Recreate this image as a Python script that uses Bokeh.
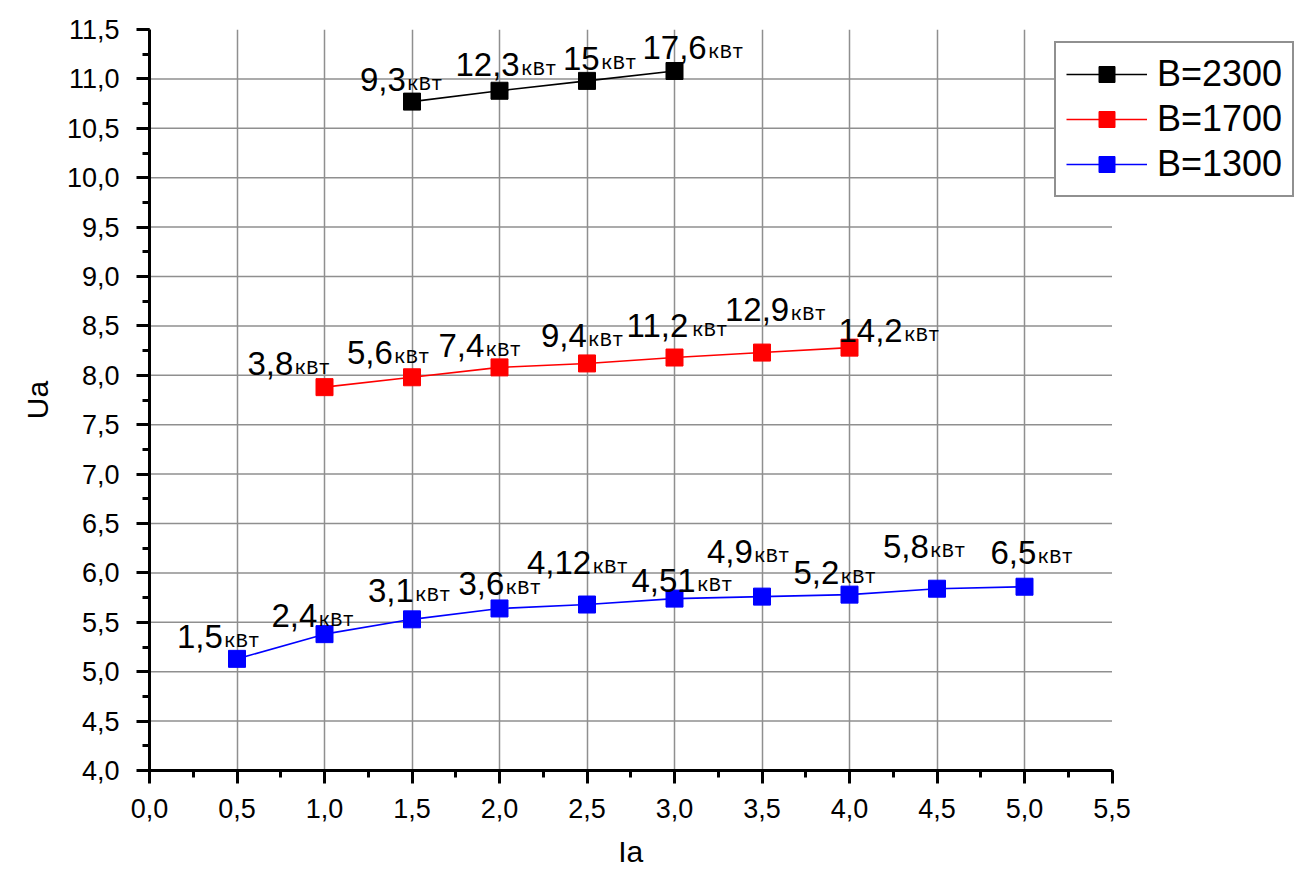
from bokeh.plotting import figure
from bokeh.models import (Range1d, SingleIntervalTicker, FixedTicker, CustomJSTickFormatter,
                          Legend, LegendItem, ColumnDataSource, Title)
from bokeh.core.properties import value
from bokeh.embed import file_html
from bokeh.resources import INLINE

# ---------------- data ----------------
ia_b2300 = [1.5, 2.0, 2.5, 3.0]
ua_b2300 = [10.77, 10.88, 10.98, 11.08]
kw_b2300 = ["9,3", "12,3", "15", "17,6"]

ia_b1700 = [1.0, 1.5, 2.0, 2.5, 3.0, 3.5, 4.0]
ua_b1700 = [7.88, 7.98, 8.08, 8.12, 8.18, 8.23, 8.28]
kw_b1700 = ["3,8", "5,6", "7,4", "9,4", "11,2", "12,9", "14,2"]

ia_b1300 = [0.5, 1.0, 1.5, 2.0, 2.5, 3.0, 3.5, 4.0, 4.5, 5.0]
ua_b1300 = [5.13, 5.38, 5.53, 5.64, 5.68, 5.74, 5.76, 5.78, 5.84, 5.86]
kw_b1300 = ["1,5", "2,4", "3,1", "3,6", "4,12", "4,51", "4,9", "5,2", "5,8", "6,5"]

series_names = ["B=2300", "B=1700", "B=1300"]
unit_text = "кВт"
x_title = "Ia"
y_title = "Ua"

# axis extents
x_min, x_max = 0.0, 5.5
y_min, y_max = 4.0, 11.5
step = 0.5

# label placement (pixel offsets of number's left/baseline from the marker)
dx_b2300 = [-52, -44, -24, -32]
dy_b2300 = [-22, -26, -22, -23]
dx_b1700 = [-77, -65, -61, -46, -48, -37, -11]
dy_b1700 = [-24, -25, -22, -28, -32, -43, -17]
dx_b1300 = [-60, -53, -44, -41, -60, -43, -55, -56, -54, -34]
dy_b1300 = [-22, -19, -29, -25, -42, -18, -45, -22, -42, -34]

colors = ["#000000", "#ff0000", "#0000ff"]

NUM_SIZE = 33
UNIT_SIZE = 20
UNIT_DROP = 5
TITLE_SIZE = 30

W, H = 1297, 879
LEFT, TOP, BOTTOM = 149, 29, 108
PX_PER_UNIT = 175.0
x_view_max = (W - LEFT) / PX_PER_UNIT


def text_w(s, size):
    w = {",": 0.278, ".": 0.278, "I": 0.278}
    return sum(w.get(c, 0.556) for c in s) * size


p = figure(width=W, height=H, x_range=Range1d(x_min, x_view_max), y_range=Range1d(y_min, y_max),
           output_backend="svg", toolbar_location=None,
           min_border_left=LEFT, min_border_right=0, min_border_top=TOP, min_border_bottom=BOTTOM)
p.outline_line_color = None
p.background_fill_color = "white"
p.border_fill_color = "white"

fmt = CustomJSTickFormatter(code="return tick.toFixed(1).replace('.', ',');")
p.xaxis.ticker = SingleIntervalTicker(interval=step, num_minor_ticks=2)
p.yaxis.ticker = SingleIntervalTicker(interval=step, num_minor_ticks=2)
p.xaxis.bounds = (x_min, x_max)
for ax in (p.xaxis[0], p.yaxis[0]):
    ax.formatter = fmt
    ax.axis_line_width = 3
    ax.axis_line_color = "black"
    ax.major_tick_line_width = 3
    ax.minor_tick_line_width = 3
    ax.major_tick_line_color = "black"
    ax.minor_tick_line_color = "black"
    ax.major_tick_out = 13
    ax.major_tick_in = 0
    ax.minor_tick_out = 7
    ax.minor_tick_in = 0
    ax.major_label_text_font = "Liberation Sans"
    ax.major_label_text_font_size = "27px"
    ax.major_label_text_color = "black"
    ax.axis_label_text_font = "Liberation Sans"
    ax.axis_label_text_font_size = f"{TITLE_SIZE}px"
    ax.axis_label_text_font_style = "normal"
    ax.axis_label_text_color = "black"

p.yaxis.axis_label = y_title
p.xaxis.major_label_standoff = 15
p.yaxis.major_label_standoff = 17
p.yaxis.axis_label_standoff = 10

# x-axis title, centred under the axis span (the frame is wider than the axis)
axis_center_px = (x_max - x_min) * PX_PER_UNIT / 2
xt = Title(text=x_title, align="left", offset=axis_center_px - text_w(x_title, TITLE_SIZE) / 2,
           text_font="Liberation Sans", text_font_size=f"{TITLE_SIZE}px",
           text_font_style="normal", text_color="black", standoff=24)
p.add_layout(xt, "below")

grid_col = "#8f8f8f"
n_x = int(round((x_max - x_min) / step))
n_y = int(round((y_max - y_min) / step))
p.xgrid.ticker = FixedTicker(ticks=[x_min + i * step for i in range(1, n_x)])
p.xgrid.grid_line_color = grid_col
p.xgrid.grid_line_width = 1.5
p.ygrid.visible = False
hgrid_y = [y_min + i * step for i in range(1, n_y)]
p.segment(x0=[x_min] * len(hgrid_y), x1=[x_max] * len(hgrid_y), y0=hgrid_y, y1=hgrid_y,
          line_color=grid_col, line_width=1.5, level="underlay")

series = [
    (ia_b2300, ua_b2300, kw_b2300, dx_b2300, dy_b2300),
    (ia_b1700, ua_b1700, kw_b1700, dx_b1700, dy_b1700),
    (ia_b1300, ua_b1300, kw_b1300, dx_b1300, dy_b1300),
]

items = []
for (xs, ys, kws, dxs, dys), name, col in zip(series, series_names, colors):
    src = ColumnDataSource(dict(
        x=xs, y=ys, num=kws, unit=[unit_text] * len(xs),
        dx=dxs, dy=dys,
        udx=[d + text_w(k, NUM_SIZE) + 1 for d, k in zip(dxs, kws)],
        udy=[d + UNIT_DROP for d in dys],
    ))
    lr = p.line("x", "y", source=src, line_color=col, line_width=1.6)
    sr = p.scatter("x", "y", source=src, marker="square", size=17,
                   fill_color=col, line_color=col)
    p.text("x", "y", text="num", source=src, x_offset="dx", y_offset="dy",
           text_font=value("Liberation Sans"), text_font_size=f"{NUM_SIZE}px",
           text_align="left", text_baseline="alphabetic", text_color="black")
    p.text("x", "y", text="unit", source=src, x_offset="udx", y_offset="udy",
           text_font=value("Liberation Mono"), text_font_size=f"{UNIT_SIZE}px",
           text_align="left", text_baseline="alphabetic", text_color="black")
    items.append(LegendItem(label=name, renderers=[lr, sr]))

legend = Legend(items=items, location=(905, 573))
legend.glyph_width = 81
legend.glyph_height = 40
legend.label_height = 40
legend.spacing = 3
legend.padding = 10
legend.label_standoff = 10
legend.label_text_font = "Liberation Sans"
legend.label_text_font_size = "36px"
legend.label_text_color = "black"
legend.border_line_color = "#222222"
legend.border_line_width = 2
legend.background_fill_color = "white"
legend.background_fill_alpha = 1.0
p.add_layout(legend)

open("out.html", "w").write(file_html(p, INLINE))
